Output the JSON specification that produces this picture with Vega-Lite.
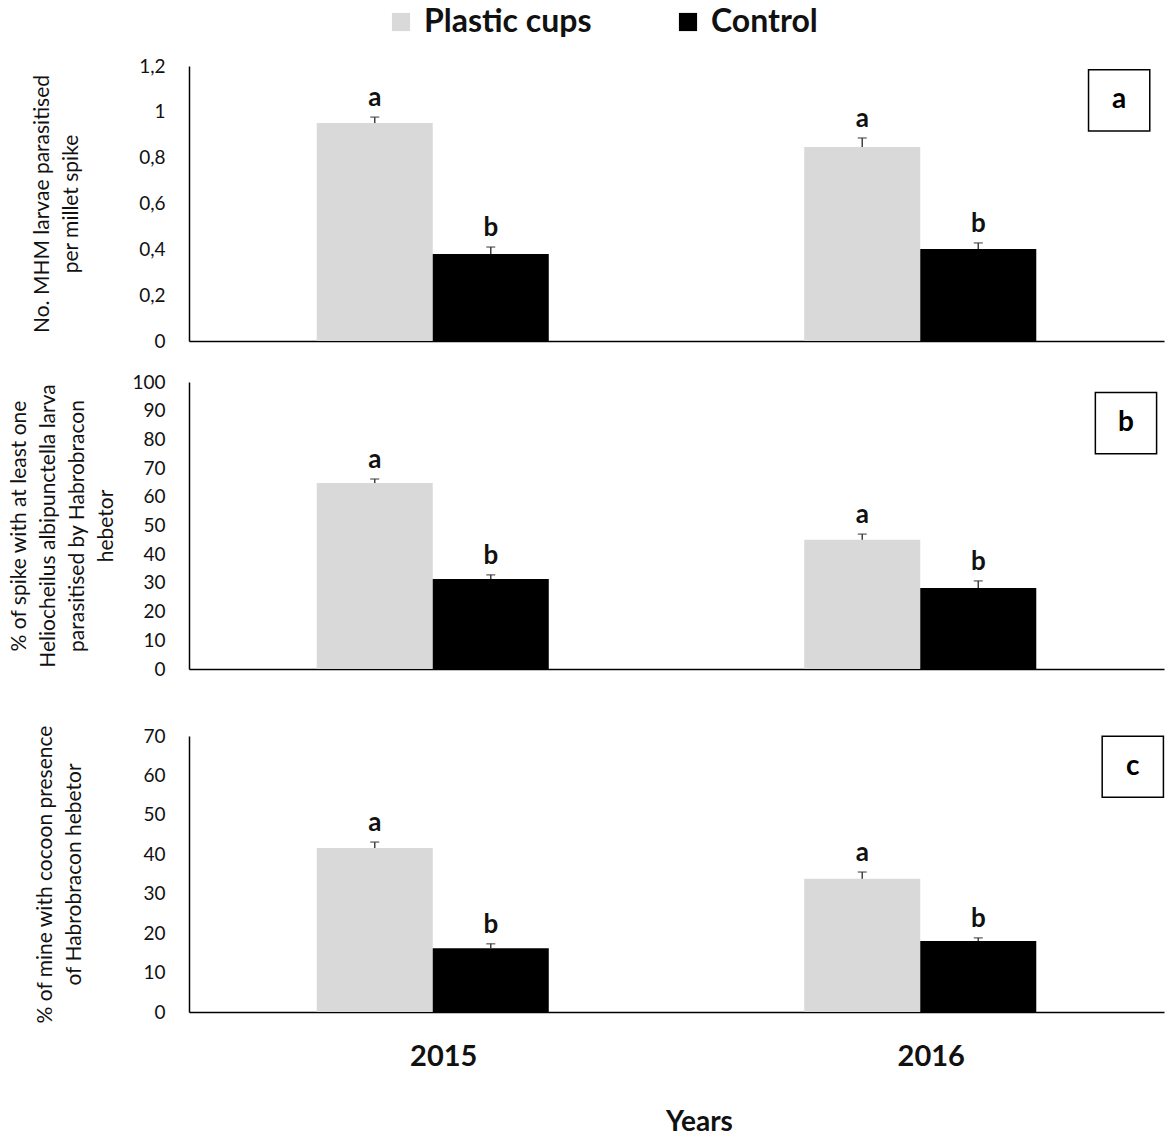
{
  "$schema": "https://vega.github.io/schema/vega-lite/v6.json",
  "padding": {"left": 8, "top": 6, "right": 0, "bottom": 2},
  "background": "white",
  "datasets": {
    "pa": [
      {"year": "2015", "treatment": "Plastic cups", "value": 0.951, "upper": 0.977, "letter": "a"},
      {"year": "2015", "treatment": "Control", "value": 0.38, "upper": 0.41, "letter": "b"},
      {"year": "2016", "treatment": "Plastic cups", "value": 0.847, "upper": 0.886, "letter": "a"},
      {"year": "2016", "treatment": "Control", "value": 0.401, "upper": 0.428, "letter": "b"}
    ],
    "pb": [
      {"year": "2015", "treatment": "Plastic cups", "value": 64.8, "upper": 66.2, "letter": "a"},
      {"year": "2015", "treatment": "Control", "value": 31.4, "upper": 32.8, "letter": "b"},
      {"year": "2016", "treatment": "Plastic cups", "value": 45.0, "upper": 47.0, "letter": "a"},
      {"year": "2016", "treatment": "Control", "value": 28.2, "upper": 30.7, "letter": "b"}
    ],
    "pc": [
      {"year": "2015", "treatment": "Plastic cups", "value": 41.6, "upper": 43.1, "letter": "a"},
      {"year": "2015", "treatment": "Control", "value": 16.2, "upper": 17.3, "letter": "b"},
      {"year": "2016", "treatment": "Plastic cups", "value": 33.8, "upper": 35.5, "letter": "a"},
      {"year": "2016", "treatment": "Control", "value": 18.0, "upper": 18.8, "letter": "b"}
    ]
  },
  "config": {
    "font": "Lato",
    "view": {"stroke": null},
    "axis": {"grid": false, "ticks": false, "labelOverlap": false, "domainColor": "#000000", "domainWidth": 1.5, "labelFont": "Lato", "labelFontSize": 19, "labelColor": "#111111", "titleFont": "Lato", "titleFontSize": 21, "titleFontWeight": "normal", "titleColor": "#111111", "titleLineHeight": 29}
  },
  "spacing": 22,
  "vconcat": [
    {
      "width": 975, "height": 275,
      "resolve": {"scale": {"x": "independent"}},
      "layer": [
        {
          "data": {"name": "pa"},
          "encoding": {
            "x": {"field": "year", "type": "nominal", "scale": {"paddingInner": 0.048, "paddingOuter": 0.024}, "axis": {"labels": false, "title": null}},
            "xOffset": {"field": "treatment", "type": "nominal", "scale": {"domain": ["Plastic cups", "Control"], "paddingInner": 0, "paddingOuter": 1}},
            "y": {"field": "value", "type": "quantitative", "scale": {"domain": [0, 1.2], "nice": false}, "axis": {"values": [0, 0.2, 0.4, 0.6, 0.8, 1, 1.2], "labelExpr": "replace(toString(datum.value), '.', ',')", "labelPadding": 24, "titlePadding": 57, "title": ["No. MHM larvae parasitised", "per  millet spike"]}}
          },
          "layer": [
            {
              "mark": {"type": "bar"},
              "encoding": {
                "color": {"field": "treatment", "type": "nominal", "scale": {"domain": ["Plastic cups", "Control"], "range": ["#d9d9d9", "#000000"]}, "legend": {"title": null, "orient": "none", "direction": "horizontal", "legendX": 196, "legendY": -60, "symbolType": "square", "symbolSize": 330, "symbolStrokeWidth": 0, "labelFont": "Lato", "labelFontSize": 32, "labelFontWeight": "bold", "labelColor": "#111111", "labelOffset": 7, "labelLimit": 400, "columnPadding": 80}}
              }
            },
            {
              "mark": {"type": "rule", "color": "#404040", "strokeWidth": 1.5},
              "encoding": {"y2": {"field": "upper"}}
            },
            {
              "mark": {"type": "tick", "color": "#404040", "size": 9, "thickness": 1.5},
              "encoding": {"y": {"field": "upper", "type": "quantitative", "axis": {"values": [0, 0.2, 0.4, 0.6, 0.8, 1, 1.2], "labelExpr": "replace(toString(datum.value), '.', ',')", "labelPadding": 24, "titlePadding": 57, "title": ["No. MHM larvae parasitised", "per  millet spike"]}}}
            },
            {
              "mark": {"type": "text", "baseline": "bottom", "dy": -6, "fontSize": 26, "fontWeight": "bold", "color": "#111111"},
              "encoding": {"y": {"field": "upper", "type": "quantitative", "axis": {"values": [0, 0.2, 0.4, 0.6, 0.8, 1, 1.2], "labelExpr": "replace(toString(datum.value), '.', ',')", "labelPadding": 24, "titlePadding": 57, "title": ["No. MHM larvae parasitised", "per  millet spike"]}}, "text": {"field": "letter"}}
            }
          ]
        },
        {
          "data": {"values": [{"label": "a"}]},
          "encoding": {
            "x": {"datum": 0.954, "type": "quantitative", "scale": {"domain": [0, 1]}, "axis": null},
            "y": {"datum": 1.05, "type": "quantitative", "axis": {"values": [0, 0.2, 0.4, 0.6, 0.8, 1, 1.2], "labelExpr": "replace(toString(datum.value), '.', ',')", "labelPadding": 24, "titlePadding": 57, "title": ["No. MHM larvae parasitised", "per  millet spike"]}}
          },
          "layer": [
            {"mark": {"type": "point", "shape": "square", "filled": false, "stroke": "#000000", "strokeWidth": 1.5, "size": 3750, "opacity": 1}},
            {"mark": {"type": "text", "fontSize": 28, "fontWeight": "bold", "color": "#000000", "baseline": "middle"}, "encoding": {"text": {"field": "label"}}}
          ]
        }
      ]
    },
    {
      "width": 975, "height": 287,
      "resolve": {"scale": {"x": "independent"}},
      "layer": [
        {
          "data": {"name": "pb"},
          "encoding": {
            "x": {"field": "year", "type": "nominal", "scale": {"paddingInner": 0.048, "paddingOuter": 0.024}, "axis": {"labels": false, "title": null}},
            "xOffset": {"field": "treatment", "type": "nominal", "scale": {"domain": ["Plastic cups", "Control"], "paddingInner": 0, "paddingOuter": 1}},
            "y": {"field": "value", "type": "quantitative", "scale": {"domain": [0, 100], "nice": false}, "axis": {"values": [0, 10, 20, 30, 40, 50, 60, 70, 80, 90, 100], "labelPadding": 24, "titlePadding": 15, "title": ["% of spike with at least one", "Heliocheilus albipunctella larva", "parasitised by Habrobracon", "hebetor"]}}
          },
          "layer": [
            {
              "mark": {"type": "bar"},
              "encoding": {"color": {"field": "treatment", "type": "nominal"}}
            },
            {
              "mark": {"type": "rule", "color": "#404040", "strokeWidth": 1.5},
              "encoding": {"y2": {"field": "upper"}}
            },
            {
              "mark": {"type": "tick", "color": "#404040", "size": 9, "thickness": 1.5},
              "encoding": {"y": {"field": "upper", "type": "quantitative", "axis": {"values": [0, 10, 20, 30, 40, 50, 60, 70, 80, 90, 100], "labelPadding": 24, "titlePadding": 15, "title": ["% of spike with at least one", "Heliocheilus albipunctella larva", "parasitised by Habrobracon", "hebetor"]}}}
            },
            {
              "mark": {"type": "text", "baseline": "bottom", "dy": -6, "fontSize": 26, "fontWeight": "bold", "color": "#111111"},
              "encoding": {"y": {"field": "upper", "type": "quantitative", "axis": {"values": [0, 10, 20, 30, 40, 50, 60, 70, 80, 90, 100], "labelPadding": 24, "titlePadding": 15, "title": ["% of spike with at least one", "Heliocheilus albipunctella larva", "parasitised by Habrobracon", "hebetor"]}}, "text": {"field": "letter"}}
            }
          ]
        },
        {
          "data": {"values": [{"label": "b"}]},
          "encoding": {
            "x": {"datum": 0.961, "type": "quantitative", "scale": {"domain": [0, 1]}, "axis": null},
            "y": {"datum": 85.7, "type": "quantitative", "axis": {"values": [0, 10, 20, 30, 40, 50, 60, 70, 80, 90, 100], "labelPadding": 24, "titlePadding": 15, "title": ["% of spike with at least one", "Heliocheilus albipunctella larva", "parasitised by Habrobracon", "hebetor"]}}
          },
          "layer": [
            {"mark": {"type": "point", "shape": "square", "filled": false, "stroke": "#000000", "strokeWidth": 1.5, "size": 3750, "opacity": 1}},
            {"mark": {"type": "text", "fontSize": 28, "fontWeight": "bold", "color": "#000000", "baseline": "middle"}, "encoding": {"text": {"field": "label"}}}
          ]
        }
      ]
    },
    {
      "width": 975, "height": 276,
      "title": {"text": " ", "fontSize": 8, "offset": 15},
      "resolve": {"scale": {"x": "independent"}},
      "layer": [
        {
          "data": {"name": "pc"},
          "encoding": {
            "x": {"field": "year", "type": "nominal", "scale": {"paddingInner": 0.048, "paddingOuter": 0.024}, "axis": {"labelAngle": 0, "labelFontSize": 29, "labelFontWeight": "bold", "labelColor": "#111111", "labelPadding": 30, "labelOffset": 11, "title": "Years", "titleFontSize": 28, "titleFontWeight": "bold", "titleColor": "#111111", "titlePadding": 37, "titleX": 510}},
            "xOffset": {"field": "treatment", "type": "nominal", "scale": {"domain": ["Plastic cups", "Control"], "paddingInner": 0, "paddingOuter": 1}},
            "y": {"field": "value", "type": "quantitative", "scale": {"domain": [0, 70], "nice": false}, "axis": {"values": [0, 10, 20, 30, 40, 50, 60, 70], "labelPadding": 24, "titlePadding": 58, "title": ["% of mine with cocoon presence", "of Habrobracon hebetor"]}}
          },
          "layer": [
            {
              "mark": {"type": "bar"},
              "encoding": {"color": {"field": "treatment", "type": "nominal"}}
            },
            {
              "mark": {"type": "rule", "color": "#404040", "strokeWidth": 1.5},
              "encoding": {"y2": {"field": "upper"}}
            },
            {
              "mark": {"type": "tick", "color": "#404040", "size": 9, "thickness": 1.5},
              "encoding": {"y": {"field": "upper", "type": "quantitative", "axis": {"values": [0, 10, 20, 30, 40, 50, 60, 70], "labelPadding": 24, "titlePadding": 58, "title": ["% of mine with cocoon presence", "of Habrobracon hebetor"]}}}
            },
            {
              "mark": {"type": "text", "baseline": "bottom", "dy": -6, "fontSize": 26, "fontWeight": "bold", "color": "#111111"},
              "encoding": {"y": {"field": "upper", "type": "quantitative", "axis": {"values": [0, 10, 20, 30, 40, 50, 60, 70], "labelPadding": 24, "titlePadding": 58, "title": ["% of mine with cocoon presence", "of Habrobracon hebetor"]}}, "text": {"field": "letter"}}
            }
          ]
        },
        {
          "data": {"values": [{"label": "c"}]},
          "encoding": {
            "x": {"datum": 0.968, "type": "quantitative", "scale": {"domain": [0, 1]}, "axis": null},
            "y": {"datum": 62.2, "type": "quantitative", "axis": {"values": [0, 10, 20, 30, 40, 50, 60, 70], "labelPadding": 24, "titlePadding": 58, "title": ["% of mine with cocoon presence", "of Habrobracon hebetor"]}}
          },
          "layer": [
            {"mark": {"type": "point", "shape": "square", "filled": false, "stroke": "#000000", "strokeWidth": 1.5, "size": 3750, "opacity": 1}},
            {"mark": {"type": "text", "fontSize": 28, "fontWeight": "bold", "color": "#000000", "baseline": "middle"}, "encoding": {"text": {"field": "label"}}}
          ]
        }
      ]
    }
  ]
}
